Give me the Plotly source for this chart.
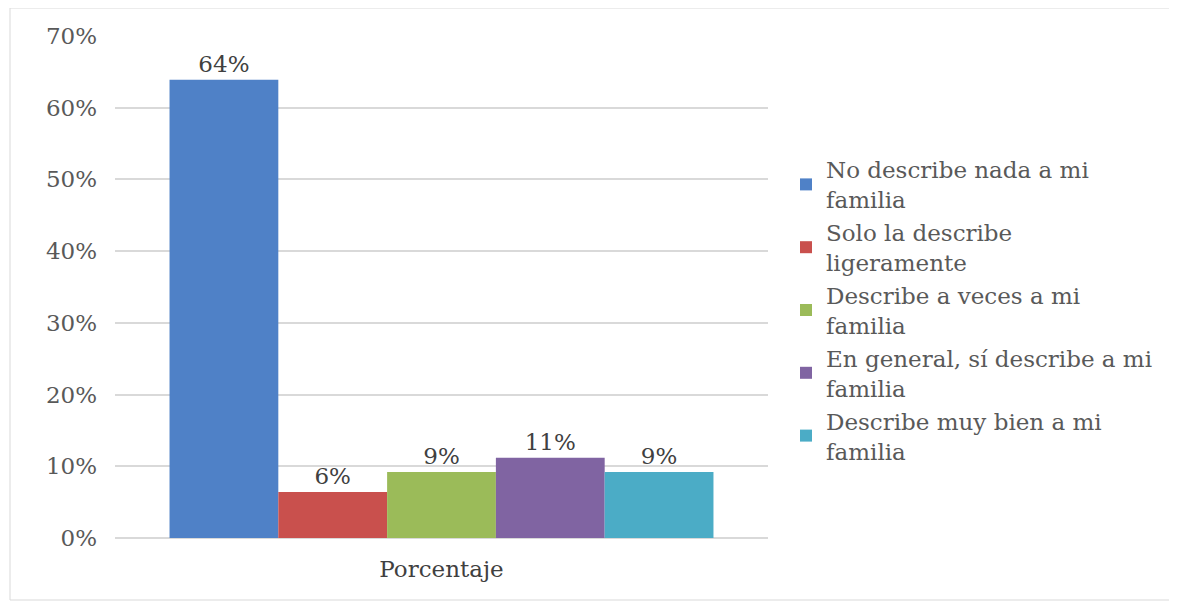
import plotly.graph_objects as go

category = ["Porcentaje"]
series_names = [
    "No describe nada a mi<br>familia",
    "Solo la describe<br>ligeramente",
    "Describe a veces a mi<br>familia",
    "En general, sí describe a mi<br>familia",
    "Describe muy bien a mi<br>familia",
]
values = [63.9, 6.4, 9.2, 11.2, 9.2]
labels = ["64%", "6%", "9%", "11%", "9%"]
colors = ["#4f81c7", "#c9504d", "#9bbb59", "#8064a2", "#4bacc6"]

y_ticks = [0, 10, 20, 30, 40, 50, 60, 70]
y_tick_text = [f"{t}%" for t in y_ticks]

FONT = "DejaVu Serif"
OFF = 8  # page body margin

# desired plot area in page pixels
PL, PR, PT, PB = 115, 768, 36, 538
W, H = 1177, 605
pw, ph = PR - PL, PB - PT

fig = go.Figure()
for name, v, lab, c in zip(series_names, values, labels, colors):
    fig.add_trace(go.Bar(
        x=category, y=[v], name=name,
        marker=dict(color=c, line=dict(width=0)),
        text=[lab], textposition="outside", cliponaxis=False,
        textfont=dict(family=FONT, size=23, color="#404040"),
    ))

def px_x(x):
    return (x - PL) / pw

def px_y(y):
    return (PB - y) / ph

fig.update_layout(
    width=W, height=H,
    margin=dict(l=PL - OFF, r=W - (PR - OFF), t=PT - OFF, b=H - (PB - OFF)),
    paper_bgcolor="white", plot_bgcolor="white",
    barmode="group", bargap=0.167, bargroupgap=0,
    font=dict(family=FONT, size=23, color="#595959"),
    showlegend=True,
    legend=dict(
        x=px_x(786), xanchor="left", y=px_y(310), yanchor="middle",
        font=dict(family=FONT, size=23, color="#595959"),
        bgcolor="rgba(0,0,0,0)", itemwidth=30,
        tracegroupgap=0,
    ),
)
fig.update_yaxes(
    range=[0, 70], tickvals=y_ticks, ticktext=y_tick_text,
    showgrid=True, gridcolor="#d9d9d9", gridwidth=1.5,
    zeroline=True, zerolinecolor="#d9d9d9", zerolinewidth=1.5,
    showline=False, ticks="", ticklen=0, ticklabelstandoff=17,
    tickfont=dict(family=FONT, size=23, color="#595959"),
)
fig.update_xaxes(
    showline=False, showgrid=False, ticks="", ticklabelstandoff=15,
    tickfont=dict(family=FONT, size=23, color="#404040"),
)
# outer chart border
fig.add_shape(type="rect", xref="paper", yref="paper",
              x0=px_x(10), x1=px_x(1175),
              y0=px_y(600), y1=px_y(8),
              line=dict(color="#d9d9d9", width=1), layer="below")

fig.write_html("out.html")
